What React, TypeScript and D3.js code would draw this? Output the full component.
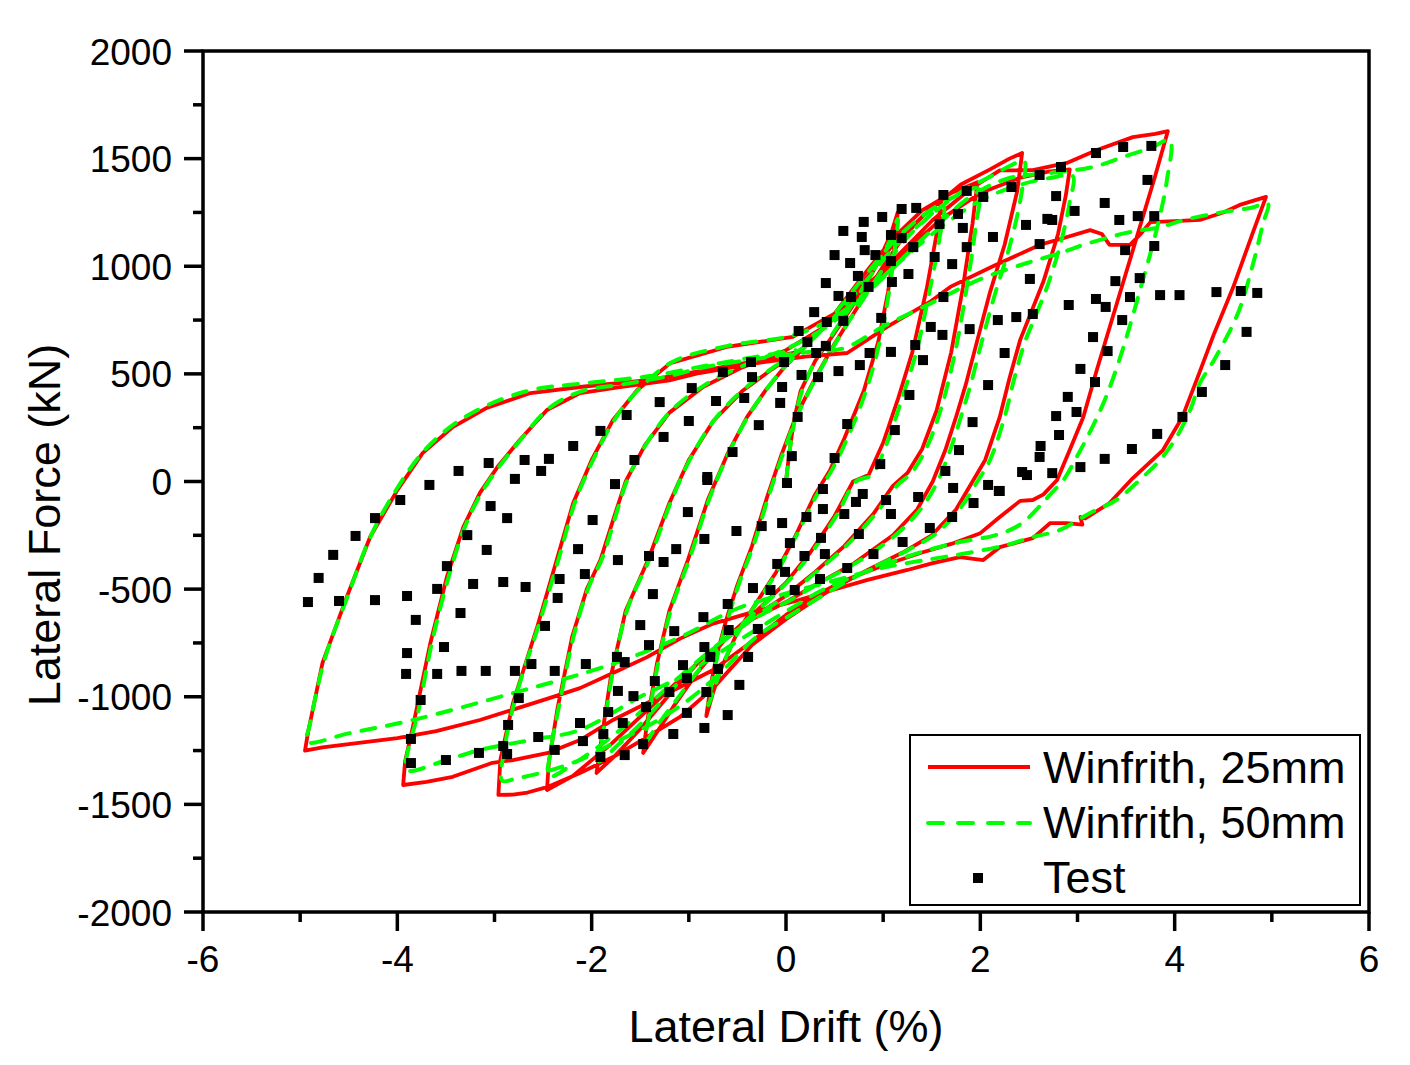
import React from "react";
import * as d3 from "d3";

type P = [number, number];

// ---- axis ticks ----
const xTicks = [-6, -4, -2, 0, 2, 4, 6];
const xMinor = [-5, -3, -1, 1, 3, 5];
const yTicks = [-2000, -1500, -1000, -500, 0, 500, 1000, 1500, 2000];
const yMinor = [-1750, -1250, -750, -250, 250, 750, 1250, 1750];
const legendLabels = ["Winfrith, 25mm", "Winfrith, 50mm", "Test"];

// ---- Winfrith, 25mm (red) : cycle by cycle ----
const red1: P[] = [[0,0],[0.03,120],[0.08,280],[0.15,420],[0.3,560],[0.5,690],[0.75,860],[0.95,1020],[1.08,1150],[1.15,1250],
[1.12,1100],[1.05,880],[0.95,650],[0.8,420],[0.6,200],[0.45,50],[0.3,-60],[0.1,-250],[-0.1,-420],[-0.3,-560],[-0.5,-700],[-0.65,-850],[-0.75,-980],[-0.82,-1090]];
const red2: P[] = [[-0.78,-960],[-0.72,-820],[-0.62,-650],[-0.5,-480],[-0.35,-300],[-0.2,-80],[-0.05,120],[0.1,300],[0.3,480],[0.5,640],[0.75,820],[1.0,1000],[1.2,1130],[1.4,1230],[1.6,1310],
[1.55,1150],[1.45,900],[1.3,600],[1.15,380],[1.0,180],[0.85,30],[0.69,0],[0.5,-160],[0.25,-330],[0,-470],[-0.3,-600],[-0.6,-720],[-0.9,-880],[-1.15,-1040],[-1.35,-1180],[-1.47,-1261]];
const red3: P[] = [[-1.43,-1120],[-1.33,-850],[-1.2,-600],[-1.01,-365],[-0.8,-80],[-0.6,130],[-0.4,300],[-0.2,430],[0,540],[0.25,650],[0.5,780],[0.8,960],[1.1,1130],[1.4,1260],[1.7,1340],[1.97,1390],
[1.92,1200],[1.82,900],[1.7,600],[1.55,330],[1.4,150],[1.25,40],[1.1,-20],[0.9,-150],[0.6,-300],[0.3,-420],[0,-530],[-0.3,-620],[-0.6,-720],[-0.9,-840],[-1.2,-990],[-1.5,-1150],[-1.75,-1270],[-1.95,-1354]];
const red4: P[] = [[-1.9,-1200],[-1.8,-900],[-1.65,-600],[-1.42,-365],[-1.2,-100],[-1.0,100],[-0.75,280],[-0.45,420],[-0.15,520],[0.15,610],[0.45,740],[0.8,930],[1.1,1100],[1.45,1250],[1.8,1380],[2.1,1450],[2.3,1500],[2.43,1526],
[2.38,1350],[2.25,1100],[2.1,880],[1.97,658],[1.85,450],[1.75,300],[1.64,146],[1.51,0],[1.35,-130],[1.1,-250],[0.7,-380],[0.3,-480],[0,-560],[-0.35,-640],[-0.7,-760],[-1.0,-880],[-1.4,-1050],[-1.8,-1220],[-2.2,-1370],[-2.46,-1433]];
const red5: P[] = [[-2.44,-1300],[-2.35,-1050],[-2.2,-720],[-2.05,-500],[-1.91,-365],[-1.78,-180],[-1.65,0],[-1.45,170],[-1.2,320],[-0.85,440],[-0.45,530],[0,610],[0.4,720],[0.8,880],[1.2,1060],[1.6,1220],[2.0,1340],[2.4,1410],[2.7,1440],[2.92,1450],
[2.88,1330],[2.8,1150],[2.65,930],[2.5,760],[2.41,658],[2.3,480],[2.2,300],[2.05,100],[1.92,0],[1.75,-130],[1.5,-250],[1.2,-330],[0.8,-420],[0.4,-520],[0,-640],[-0.35,-760],[-0.75,-960],[-1.09,-1094],[-1.43,-1187],[-1.78,-1280],[-2.12,-1354],[-2.46,-1420],[-2.66,-1445],[-2.81,-1455],[-2.96,-1456]];
const red6: P[] = [[-2.94,-1294],[-2.81,-1029],[-2.56,-675],[-2.36,-365],[-2.19,-100],[-2.0,100],[-1.78,286],[-1.53,425],[-1.19,550],[-0.61,625],[0.07,672],[0.5,780],[1.0,980],[1.51,1215],[1.9,1360],[2.2,1445],[2.54,1447],[2.89,1480],[3.2,1540],[3.57,1600],[3.8,1615],[3.93,1628],
[3.8,1420],[3.6,1120],[3.4,820],[3.2,520],[3.06,300],[2.92,146],[2.79,7],[2.65,-60],[2.54,-86],[2.41,-90],[2.2,-165],[2.0,-240],[1.7,-290],[1.4,-330],[1.0,-390],[0.6,-460],[0.3,-530],[0,-620],[-0.4,-760],[-0.75,-876],[-1.09,-955],[-1.43,-1029],[-1.78,-1108],[-2.12,-1201],[-2.46,-1262],[-2.81,-1294],[-3.02,-1307],[-3.43,-1372],[-3.7,-1395],[-3.94,-1410]];
const red7: P[] = [[-3.92,-1300],[-3.84,-1140],[-3.66,-750],[-3.49,-443],[-3.32,-211],[-3.15,-53],[-2.97,67],[-2.74,193],[-2.46,332],[-2.12,411],[-1.71,439],[-1.2,470],[-0.89,504],[-0.3,550],[0.2,580],[0.63,597],[1.04,718],[1.48,834],[1.69,904],[2.13,1000],[2.61,1099],[2.85,1130],[3.13,1168],[3.25,1150],[3.33,1099],[3.54,1099],[3.65,1150],[3.75,1205],[4.0,1210],[4.26,1215],[4.5,1250],[4.67,1285],[4.94,1322],
[4.8,1150],[4.6,900],[4.4,680],[4.25,500],[4.08,300],[3.88,146],[3.57,16],[3.33,-100],[3.08,-172],[3.03,-165],[3.05,-200],[2.89,-193],[2.72,-193],[2.54,-263],[2.2,-305],[2.03,-365],[1.79,-351],[1.51,-379],[1.25,-411],[0.83,-458],[0.48,-504],[0.14,-550],[-0.37,-610],[-0.75,-660],[-1.09,-730],[-1.43,-816],[-1.78,-890],[-2.12,-960],[-2.46,-1010],[-2.81,-1060],[-3.15,-1108],[-3.6,-1160],[-4.0,-1192],[-4.5,-1220],[-4.77,-1235],[-4.95,-1250]];
const red8: P[] = [[-4.92,-1168],[-4.77,-843],[-4.52,-536],[-4.28,-258],[-4.0,-40],[-3.74,132],[-3.43,253],[-3.08,342],[-2.63,411],[-2.12,439],[-1.4,472],[-0.8,520],[-0.3,560],[0.1,600]];

// ---- Winfrith, 50mm (green) ----
const green1: P[] = [[0,0],[0.05,180],[0.15,400],[0.3,560],[0.5,700],[0.75,870],[0.95,1020],[1.08,1130],[1.15,1220],
[1.12,1080],[1.06,880],[0.97,660],[0.83,430],[0.65,220],[0.48,60],[0.32,-60],[0.12,-240],[-0.08,-410],[-0.28,-550],[-0.48,-690],[-0.63,-830],[-0.73,-950],[-0.8,-1040]];
const green2: P[] = [[-0.76,-930],[-0.7,-800],[-0.6,-640],[-0.48,-470],[-0.33,-290],[-0.18,-70],[-0.03,130],[0.12,310],[0.32,490],[0.52,650],[0.77,830],[1.02,1000],[1.22,1120],[1.42,1210],[1.62,1280],
[1.58,1130],[1.48,890],[1.34,600],[1.19,380],[1.04,180],[0.88,30],[0.72,0],[0.53,-150],[0.28,-320],[0.03,-460],[-0.27,-590],[-0.57,-710],[-0.87,-860],[-1.12,-1010],[-1.32,-1130],[-1.45,-1210]];
const green3: P[] = [[-1.41,-1090],[-1.31,-830],[-1.18,-590],[-0.99,-355],[-0.78,-70],[-0.58,140],[-0.38,310],[-0.18,440],[0.02,550],[0.27,660],[0.52,790],[0.82,960],[1.12,1120],[1.42,1240],[1.72,1320],[1.98,1360],
[1.95,1180],[1.86,900],[1.74,600],[1.59,330],[1.44,150],[1.29,40],[1.14,-20],[0.94,-140],[0.64,-290],[0.34,-410],[0.04,-520],[-0.26,-610],[-0.56,-710],[-0.86,-820],[-1.16,-960],[-1.46,-1110],[-1.72,-1220],[-1.93,-1300]];
const green4: P[] = [[-1.88,-1160],[-1.78,-880],[-1.63,-590],[-1.4,-355],[-1.18,-90],[-0.98,110],[-0.73,290],[-0.43,430],[-0.13,530],[0.17,620],[0.47,750],[0.82,930],[1.12,1090],[1.47,1230],[1.82,1350],[2.12,1420],[2.32,1470],[2.45,1490],
[2.42,1330],[2.3,1090],[2.15,870],[2.02,658],[1.9,450],[1.8,300],[1.69,146],[1.56,0],[1.4,-120],[1.15,-240],[0.75,-370],[0.35,-470],[0.05,-550],[-0.3,-630],[-0.65,-740],[-0.95,-850],[-1.35,-1010],[-1.75,-1170],[-2.15,-1300],[-2.44,-1370]];
const green5: P[] = [[-2.42,-1250],[-2.33,-1030],[-2.18,-710],[-2.03,-490],[-1.89,-355],[-1.76,-170],[-1.63,10],[-1.43,180],[-1.18,330],[-0.83,450],[-0.43,540],[0.02,620],[0.42,720],[0.82,870],[1.22,1040],[1.62,1190],[2.02,1310],[2.42,1380],[2.72,1410],[2.95,1420],
[2.92,1300],[2.84,1130],[2.7,920],[2.55,750],[2.46,650],[2.35,480],[2.25,300],[2.1,100],[1.97,0],[1.8,-120],[1.55,-240],[1.25,-320],[0.85,-410],[0.45,-510],[0.05,-620],[-0.3,-720],[-0.7,-900],[-1.05,-1030],[-1.4,-1130],[-1.75,-1210],[-2.1,-1290],[-2.45,-1345],[-2.78,-1380],[-2.92,-1390]];
const green6: P[] = [[-2.9,-1250],[-2.78,-1000],[-2.54,-660],[-2.34,-360],[-2.17,-95],[-1.98,105],[-1.76,290],[-1.51,430],[-1.17,555],[-0.6,630],[0.08,680],[0.52,770],[1.02,960],[1.53,1180],[1.92,1330],[2.3,1410],[2.72,1433],[3.16,1461],[3.47,1508],[3.75,1549],[3.95,1585],
[3.92,1400],[3.82,1180],[3.65,900],[3.47,620],[3.3,400],[3.15,250],[3.0,120],[2.86,10],[2.72,-60],[2.62,-110],[2.41,-200],[2.15,-250],[1.8,-280],[1.45,-320],[1.05,-380],[0.65,-450],[0.35,-510],[0.05,-590],[-0.35,-700],[-0.7,-800],[-1.05,-900],[-1.5,-1000],[-2.12,-1154],[-2.63,-1201],[-3.15,-1247],[-3.5,-1295],[-3.9,-1340]];
const green7: P[] = [[-3.88,-1230],[-3.8,-1100],[-3.64,-740],[-3.47,-440],[-3.3,-205],[-3.13,-50],[-2.95,70],[-2.72,200],[-2.44,340],[-2.1,420],[-1.7,450],[-1.2,490],[-0.85,530],[-0.3,570],[0.2,600],[0.6,620],[1.0,720],[1.5,830],[2.0,940],[2.48,1015],[2.82,1061],[3.06,1099],[3.5,1155],[3.85,1182],[4.1,1215],[4.45,1248],[4.78,1271],[4.96,1290],
[4.91,1200],[4.8,1000],[4.65,780],[4.4,560],[4.26,457],[4.16,332],[4.02,207],[3.85,100],[3.64,7],[3.4,-86],[3.13,-146],[2.82,-225],[2.54,-258],[2.27,-295],[1.9,-330],[1.5,-360],[1.0,-400],[0.5,-460],[0,-520],[-0.5,-590],[-1.09,-723],[-1.8,-850],[-2.81,-983],[-3.84,-1108],[-4.5,-1170],[-4.93,-1210]];
const green8: P[] = [[-4.9,-1130],[-4.75,-830],[-4.5,-520],[-4.27,-250],[-4.0,-30],[-3.73,140],[-3.42,265],[-3.07,355],[-2.62,425],[-2.1,455],[-1.4,490],[-0.8,540],[-0.3,580],[0.1,610]];

// ---- Test (black squares) ----
const testPoints: P[] = [
[-4.92,-560],[-4.81,-448],[-4.66,-341],[-4.43,-253],[-4.23,-170],[-3.97,-86],[-3.67,-16],[-3.37,49],[-3.06,86],[-2.69,100],[-2.44,105],[-2.52,49],[-2.79,12],[-2.87,-170],[-3.04,-114],[-3.28,-249],[-3.08,-318],[-3.49,-393],[-3.22,-476],[-2.91,-467],[-2.68,-490],[-3.59,-499],[-3.90,-532],[-4.23,-551],[-4.60,-555],[-3.35,-611],[-3.81,-643],[-2.35,-541],[-2.33,-453],[-2.07,-430],[-2.14,-314],[-1.99,-179],[-1.76,-12],[-2.19,165],[-1.91,235],[-1.64,309],[-1.30,369],[-1.26,207],[-1.56,100],[-1.73,-365],[-1.41,-346],[-1.26,-374],[-1.37,-523],[-1.50,-667],[-2.48,-671],[-3.52,-769],[-3.90,-797],[-3.91,-894],[-3.59,-894],[-3.34,-880],[-3.09,-880],[-2.79,-880],[-2.62,-848],[-2.38,-880],[-2.06,-848],[-1.74,-815],[-1.66,-839],[-1.41,-760],[-1.15,-695],[-3.76,-1015],[-2.75,-1006],[-1.73,-973],[-1.57,-997],[-1.20,-978],[-1.35,-927],[-1.44,-1048],[-1.83,-1071],[-2.86,-1131],[-1.68,-1122],[-2.12,-1122],[-2.55,-1187],[-2.09,-1206],[-1.88,-1173],[-3.86,-1196],[-2.91,-1229],[-2.87,-1266],[-3.16,-1261],[-3.50,-1294],[-3.86,-1308],[-2.38,-1247],[-1.91,-1280],[-1.66,-1271],[-1.47,-1220],[-1.16,-1173],
[-1.02,-913],[-1.06,-853],[-1.02,-1075],[-0.84,-769],[-0.85,-630],[-0.60,-569],[-0.59,-690],[-0.78,-815],[-0.70,-871],[-0.82,-978],[-0.39,-815],[-0.29,-685],[-0.34,-495],[-0.16,-504],[-0.09,-383],[-0.48,-945],[-0.60,-1085],[-0.84,-1145],
[-0.81,7],[0.01,-7],[0.38,-35],[0.79,-58],[0.72,-95],[1.03,-86],[1.36,-72],[1.72,-30],[2.08,-16],[2.19,-44],[1.93,-100],[1.08,-151],[0.60,-151],[0.38,-128],[0.21,-165],[-0.04,-193],[-0.25,-207],[-0.51,-230],[-0.84,-267],[0.04,-286],[0.36,-262],[0.75,-244],[1.71,-165],[1.48,-216],[1.20,-281],[0.90,-337],[0.40,-337],[0.19,-346],[-0.01,-420],[0.63,-402],[0.35,-453],[0.09,-504],
[1.62,1331],[1.86,1350],[2.03,1322],[2.32,1368],[1.77,1243],[1.82,1178],[1.58,1196],[1.19,1266],[1.34,1271],[0.99,1229],[0.80,1206],[0.59,1164],[0.78,1136],[1.08,1145],[1.19,1131],[1.31,1089],[0.81,1075],[0.92,1052],[0.50,1052],[0.66,1015],[1.08,1024],[1.53,1043],[1.71,1010],[2.13,1136],[2.47,1192],[2.61,1103],[2.69,1220],[1.26,964],[1.09,927],[0.85,904],[0.74,955],[0.41,922],[0.54,862],[0.67,857],[0.29,787],[0.42,741],[0.59,746],[0.98,760],[1.62,857],[2.51,941],[2.54,778],[2.37,764],[2.18,750],[1.89,708],[1.61,681],[1.49,718],[1.33,634],[1.41,564],[1.08,602],[0.86,597],[0.76,541],[0.54,513],[0.33,485],[0.16,495],[0.13,699],[0.22,648],[0.41,630],[0.31,597],[-0.02,555],[-0.36,555],[-0.65,509],[-0.35,485],[-0.04,439],[-0.06,365],[-0.43,388],[-0.72,374],[0.12,300],[-0.28,262],[0.63,267],[1.12,239],[1.27,402],[2.08,448],[1.92,276],[1.78,146],[0.50,109],[0.97,81],[0.06,118],[-0.55,137],[-0.81,21],[1.64,49],[2.43,44],[2.48,30],[2.62,165],[2.61,114],
[2.83,1461],[2.61,1424],[2.78,1326],[2.74,1215],[2.97,1257],[1.86,1089],[2.91,820],
[3.76,1559],[3.47,1554],[3.19,1526],[3.28,1294],[3.72,1401],[3.43,1215],[3.62,1233],[3.79,1233],[3.79,1094],[3.49,1075],[3.39,931],[3.64,945],[3.85,866],[4.05,866],[4.43,880],[4.68,885],[4.85,876],[3.54,857],[3.19,848],[3.29,811],[3.46,750],[4.74,695],[3.16,671],[2.25,597],[3.31,606],[3.03,523],[4.52,541],[3.18,462],[2.90,393],[2.99,323],[2.78,304],[4.28,416],[4.08,300],
[2.81,216],[3.82,221],[3.56,151],[3.28,105],[3.03,67],[2.74,39],[2.20,-44],
[-0.97,434],[-1.00,281],[-1.01,-142],[-1.13,-314]
];

const FONT = "'Liberation Sans', Arial, Helvetica, sans-serif";

export default function App() {
  const W = 1410, H = 1065;
  const x = d3.scaleLinear().domain([-6, 6]).range([203, 1369]);
  const y = d3.scaleLinear().domain([-2000, 2000]).range([912, 51]);
  const redData = [...red1, ...red2, ...red3, ...red4, ...red5, ...red6, ...red7, ...red8];
  const greenData = [...green1, ...green2, ...green3, ...green4, ...green5, ...green6, ...green7, ...green8];
  const redLine = d3.line<P>().x(d => x(d[0])).y(d => y(d[1]));
  const greenLine = d3.line<P>().x(d => x(d[0])).y(d => y(d[1])).curve(d3.curveCatmullRom.alpha(0.5));
  const [x0, x1] = x.range();
  const [yb, yt] = y.range();
  const sq = 10;

  return (
    <div style={{ position: "absolute", left: 0, top: 0, width: W, height: H, background: "#fff" }}>
      <svg width={W} height={H} viewBox={`0 0 ${W} ${H}`} style={{ display: "block" }}>
        <rect x={0} y={0} width={W} height={H} fill="#fff" />
        <g>
          <path d={redLine(redData) || ""} fill="none" stroke="#ff0000" strokeWidth={3.8} strokeLinejoin="round" />
          <path d={greenLine(greenData) || ""} fill="none" stroke="#00ff00" strokeWidth={4} strokeDasharray="14 12" strokeLinecap="round" />
          {testPoints.map((p, i) => (
            <rect key={i} x={x(p[0]) - sq / 2} y={y(p[1]) - sq / 2} width={sq} height={sq} fill="#000" />
          ))}
        </g>
        {/* frame */}
        <rect x={x0} y={yt} width={x1 - x0} height={yb - yt} fill="none" stroke="#000" strokeWidth={3.5} />
        {/* x ticks */}
        {xTicks.map(v => (
          <g key={"xt" + v}>
            <line x1={x(v)} x2={x(v)} y1={yb} y2={yb + 19} stroke="#000" strokeWidth={3.5} />
            <text x={x(v)} y={972} textAnchor="middle" fontFamily={FONT} fontSize={37}>{String(v)}</text>
          </g>
        ))}
        {xMinor.map(v => (
          <line key={"xm" + v} x1={x(v)} x2={x(v)} y1={yb} y2={yb + 10} stroke="#000" strokeWidth={3.5} />
        ))}
        {/* y ticks */}
        {yTicks.map(v => (
          <g key={"yt" + v}>
            <line x1={x0 - 19} x2={x0} y1={y(v)} y2={y(v)} stroke="#000" strokeWidth={3.5} />
            <text x={172} y={y(v) + 13.5} textAnchor="end" fontFamily={FONT} fontSize={37}>{String(v)}</text>
          </g>
        ))}
        {yMinor.map(v => (
          <line key={"ym" + v} x1={x0 - 10} x2={x0} y1={y(v)} y2={y(v)} stroke="#000" strokeWidth={3.5} />
        ))}
        {/* axis titles */}
        <text x={786} y={1042} textAnchor="middle" fontFamily={FONT} fontSize={45}>Lateral Drift (%)</text>
        <text transform="translate(60,525) rotate(-90)" textAnchor="middle" fontFamily={FONT} fontSize={45}>Lateral Force (kN)</text>
        {/* legend */}
        <rect x={910} y={735} width={450} height={170} fill="#fff" stroke="#000" strokeWidth={2} />
        <line x1={928} x2={1030} y1={767} y2={767} stroke="#ff0000" strokeWidth={4} />
        <line x1={928} x2={1030} y1={823} y2={823} stroke="#00ff00" strokeWidth={4} strokeDasharray="15 15" strokeLinecap="round" />
        <rect x={978 - sq / 2} y={878 - sq / 2} width={sq} height={sq} fill="#000" />
        <text x={1043} y={783} fontFamily={FONT} fontSize={45}>{legendLabels[0]}</text>
        <text x={1043} y={838} fontFamily={FONT} fontSize={45}>{legendLabels[1]}</text>
        <text x={1043} y={893} fontFamily={FONT} fontSize={45}>{legendLabels[2]}</text>
      </svg>
    </div>
  );
}
